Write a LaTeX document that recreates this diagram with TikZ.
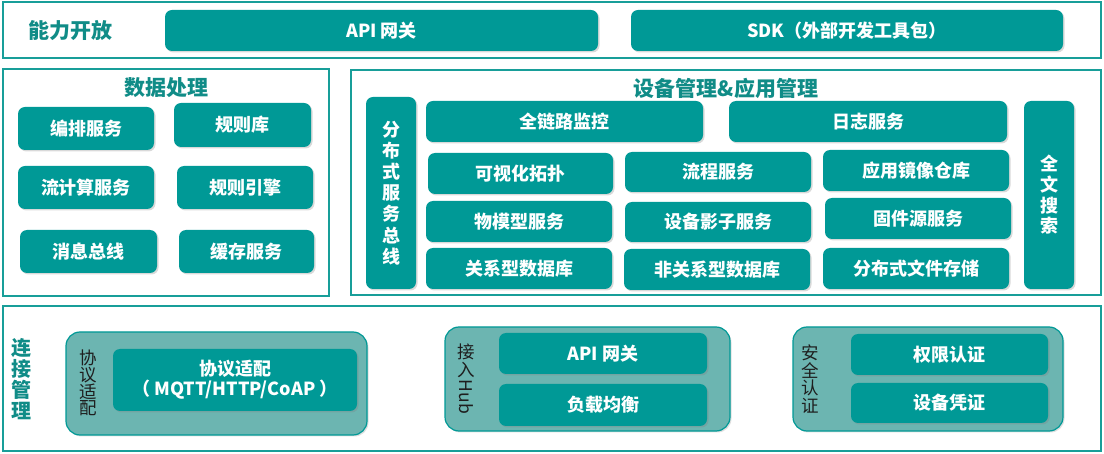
\documentclass[tikz,border=0pt]{standalone}
\usepackage{fontspec}
\setmainfont{Noto Sans CJK SC}
\usetikzlibrary{shadows}
\definecolor{tealbox}{RGB}{0,153,150}
\definecolor{tealgrp}{RGB}{108,181,177}
\definecolor{tealline}{RGB}{24,158,153}
\definecolor{tealtxt}{RGB}{16,140,135}
\definecolor{labgray}{RGB}{30,30,30}
\tikzset{
  box/.style={fill=tealbox, rounded corners=7pt, text=white, inner sep=0pt,
    font=\bfseries\fontsize{18}{21}\selectfont, align=center,
    drop shadow={opacity=0.3, shadow xshift=1.5pt, shadow yshift=-1.5pt}},
  grp/.style={fill=tealgrp, draw=tealbox, line width=1.2pt, rounded corners=14pt, inner sep=0pt,
    drop shadow={opacity=0.25, shadow xshift=1.5pt, shadow yshift=-1.5pt}},
  frame/.style={draw=tealline, line width=2.5pt},
  ttl/.style={text=tealtxt, font=\bfseries\fontsize{21}{23}\selectfont, inner sep=0pt},
  vlab/.style={text=labgray, font=\fontsize{17.5}{16.7}\selectfont, align=center, inner sep=0pt},
}
\newcommand\mybox[7][box]{\node[#1, minimum width={(#5)-(#3)}, minimum height={(#6)-(#4)}] (#2) at ({((#3)+(#5))/2},{((#4)+(#6))/2}) {#7};}
\begin{document}
\begin{tikzpicture}[x=1pt,y=-1pt]
\useasboundingbox (0,0) rectangle (1104,454);
% frames
\draw[frame] (3,2) rectangle (1101,58);
\draw[frame] (3,69) rectangle (329,296);
\draw[frame] (351,70) rectangle (1101,295);
\draw[frame] (3,306) rectangle (1101,451);
% top band
\node[ttl] (t1) at (70,31) {能力开放};
\mybox{api}{165}{10}{598}{51}{API 网关}
\mybox{sdk}{631}{10}{1063}{51}{SDK（外部开发工具包）}
% data processing
\node[ttl] (t2) at (166,88) {数据处理};
\mybox{bp}{18}{107}{154}{150}{编排服务}
\mybox{gzk}{174}{103}{311}{147}{规则库}
\mybox{ljs}{18}{166}{154}{209}{流计算服务}
\mybox{gzyq}{177}{166}{313}{209}{规则引擎}
\mybox{xxzx}{20}{230}{157}{273}{消息总线}
\mybox{hc}{179}{230}{314}{273}{缓存服务}
% device & app management
\node[ttl] (t3) at (726,88) {设备管理\&应用管理};
\mybox[box, font=\bfseries\fontsize{18}{21.2}\selectfont]{bus}{366}{97}{416}{289}{分\\布\\式\\服\\务\\总\\线}
\mybox[box, font=\bfseries\fontsize{18}{20.7}\selectfont]{search}{1024}{101}{1074}{289}{全\\文\\搜\\索}
\mybox{qll}{426}{101}{703}{142}{全链路监控}
\mybox{rz}{729}{101}{1007}{142}{日志服务}
\mybox{ksh}{428}{153}{613}{194}{可视化拓扑}
\mybox{lc}{625}{152}{811}{192}{流程服务}
\mybox{jx}{823}{150}{1009}{191}{应用镜像仓库}
\mybox{wmx}{426}{201}{612}{242}{物模型服务}
\mybox{yz}{625}{202}{811}{242}{设备影子服务}
\mybox{gj}{825}{198}{1011}{239}{固件源服务}
\mybox{gx}{426}{248}{612}{289}{关系型数据库}
\mybox{fgx}{624}{249}{810}{290}{非关系型数据库}
\mybox{fs}{823}{248}{1009}{289}{分布式文件存储}
% connection management
\node[ttl, font=\bfseries\fontsize{20}{21}\selectfont, align=center] (t4) at (22,379) {连\\接\\管\\理};
\mybox[grp]{g1}{66}{332}{367}{435}{}
\mybox[grp]{g2}{445}{327}{730}{431}{}
\mybox[grp]{g3}{793}{327}{1063}{431}{}
\node[vlab] (l1) at (88,383) {协\\议\\适\\配};
\mybox[box, font=\bfseries\fontsize{18}{20}\selectfont]{xy}{113}{349}{357}{411}{协议适配\\（ MQTT/HTTP/CoAP ）}
\node[vlab] (l2a) at (466,352) {接};
\node[vlab] (l2b) at (466,370) {入};
\node[vlab, rotate=-90] (l2c) at (466,397) {Hub};
\mybox{api2}{499}{333}{707}{374}{API 网关}
\mybox{fz}{499}{384}{707}{426}{负载均衡}
\node[vlab, font=\fontsize{17.5}{17.7}\selectfont] (l3) at (810,379) {安\\全\\认\\证};
\mybox{qx}{851}{334}{1048}{375}{权限认证}
\mybox{pz}{851}{383}{1048}{423}{设备凭证}
\end{tikzpicture}
\end{document}
